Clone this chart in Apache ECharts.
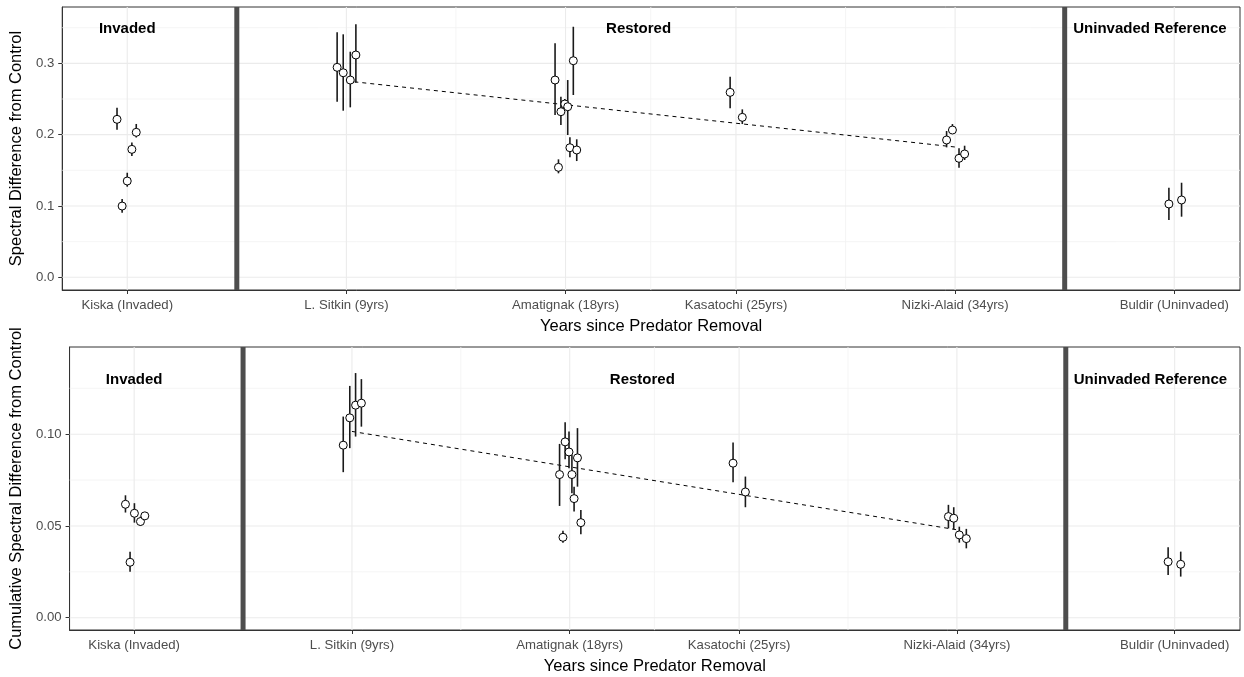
<!DOCTYPE html>
<html>
<head>
<meta charset="utf-8">
<script src="https://cdn.jsdelivr.net/npm/echarts@6/dist/echarts.min.js"></script>
<style>
html,body{margin:0;padding:0;background:#fff;}
#chart{width:1244px;height:677px;}
</style>
</head>
<body>
<div id="chart"></div>
<script>
// ---- Data ----
const siteLabels = ['Kiska (Invaded)', 'L. Sitkin (9yrs)', 'Amatignak (18yrs)', 'Kasatochi (25yrs)', 'Nizki-Alaid (34yrs)', 'Buldir (Uninvaded)'];
const siteYears = [0, 9, 18, 25, 34, 43];
const minorYears = [4.5, 13.5, 21.5, 29.5, 38.5];
const groupDividers = [4.5, 38.5];
const panelLabels = ['Invaded', 'Restored', 'Uninvaded Reference'];
const panelLabelX = [0, 21, 42];
const topLabelY = 0.349;
const bottomLabelY = 0.1297;

// top panel: spectral difference from control (jittered x)
const topX  = [-0.42, 0.37, 0.19, 0.00, -0.21,  8.62, 8.87, 9.16, 9.39,  17.57, 17.81, 17.97, 18.09, 18.32, 17.71, 18.18, 18.46,  24.76, 25.26,  33.65, 33.89, 34.16, 34.39,  42.78, 43.30];
const topY  = [0.2215, 0.2033, 0.1794, 0.1350, 0.0999,  0.2944, 0.2868, 0.2766, 0.3117,  0.2766, 0.2322, 0.2430, 0.2392, 0.3037, 0.1542, 0.1817, 0.1785,  0.2593, 0.2243,  0.1925, 0.2065, 0.1668, 0.1729,  0.1028, 0.1084];
const topLo = [0.2070, 0.1960, 0.1700, 0.1270, 0.0906,  0.2462, 0.2336, 0.2383, 0.2728,  0.2275, 0.2135, 0.2360, 0.1995, 0.2556, 0.1458, 0.1682, 0.1630,  0.2369, 0.2149,  0.1822, 0.2027, 0.1537, 0.1645,  0.0803, 0.0850];
const topHi = [0.2377, 0.2150, 0.1890, 0.1466, 0.1098,  0.3435, 0.3407, 0.3163, 0.3547,  0.3280, 0.2532, 0.2500, 0.2766, 0.3513, 0.1654, 0.1963, 0.1935,  0.2813, 0.2355,  0.2051, 0.2149, 0.1809, 0.1845,  0.1256, 0.1326];
const topFit = [[9, 0.2753], [34, 0.1827]];
const topTicks = [0, 0.1, 0.2, 0.3];

// bottom panel: cumulative spectral difference from control
const botX  = [-0.36, 0.01, 0.26, 0.44, -0.17,  8.64, 8.91, 9.15, 9.39,  17.58, 17.81, 17.97, 18.09, 18.18, 18.32, 17.72, 18.46,  24.75, 25.26,  33.65, 33.87, 34.10, 34.39,  42.73, 43.25];
const botY  = [0.0618, 0.0569, 0.0524, 0.0555, 0.0302,  0.0940, 0.1089, 0.1158, 0.1169,  0.0780, 0.0958, 0.0903, 0.0780, 0.0649, 0.0871, 0.0438, 0.0518,  0.0842, 0.0685,  0.0551, 0.0542, 0.0451, 0.0431,  0.0305, 0.0291];
const botLo = [0.0573, 0.0518, 0.0500, 0.0537, 0.0251,  0.0793, 0.0924, 0.0987, 0.1041,  0.0609, 0.0864, 0.0815, 0.0678, 0.0578, 0.0714, 0.0409, 0.0455,  0.0738, 0.0602,  0.0487, 0.0482, 0.0409, 0.0378,  0.0233, 0.0224];
const botHi = [0.0667, 0.0624, 0.0551, 0.0573, 0.0360,  0.1096, 0.1263, 0.1333, 0.1300,  0.0947, 0.1065, 0.1014, 0.0887, 0.0714, 0.1033, 0.0474, 0.0587,  0.0954, 0.0769,  0.0615, 0.0602, 0.0496, 0.0484,  0.0384, 0.0360];
const botFit = [[9, 0.1015], [34, 0.0479]];
const botTicks = [0, 0.05, 0.10];
const topMinorY = [0.05, 0.15, 0.25, 0.35];
const botMinorY = [0.025, 0.075, 0.125];

// ---- Chart ----
const FONT = "'Liberation Sans', Arial, sans-serif";
const chart = echarts.init(document.getElementById('chart'), null, {renderer: 'canvas'});

function vLineRender(color, width) {
  return function (params, api) {
    const cs = params.coordSys;
    const x = api.coord([api.value(0), api.value(1)])[0];
    return {type: 'line', shape: {x1: x, y1: cs.y, x2: x, y2: cs.y + cs.height},
            style: {stroke: color, lineWidth: width}, silent: true};
  };
}
function hLineRender(color, width) {
  return function (params, api) {
    const cs = params.coordSys;
    const y = api.coord([api.value(0), api.value(1)])[1];
    return {type: 'line', shape: {x1: cs.x, y1: y, x2: cs.x + cs.width, y2: y},
            style: {stroke: color, lineWidth: width}, silent: true};
  };
}
function errRender(params, api) {
  const p1 = api.coord([api.value(0), api.value(1)]);
  const p2 = api.coord([api.value(0), api.value(2)]);
  return {type: 'line', shape: {x1: p1[0], y1: p1[1], x2: p2[0], y2: p2[1]},
          style: {stroke: '#1a1a1a', lineWidth: 1.6}};
}
function textRender(params, api) {
  const p = api.coord([api.value(0), api.value(1)]);
  return {type: 'text', x: p[0], y: p[1],
          style: {text: panelLabels[params.dataIndex], fill: '#000', align: 'center', verticalAlign: 'middle',
                  font: 'bold 15px ' + FONT}};
}

function panelSeries(idx, xs, ys, los, his, fit, yTicks, minorY, labelY) {
  const s = [];
  const enc = {x: 0, y: 1};
  s.push({type: 'custom', xAxisIndex: idx, yAxisIndex: idx, z: 1, silent: true,
          renderItem: vLineRender('#f2f2f2', 0.8), encode: enc,
          data: minorYears.map(v => [v, yTicks[0]])});
  s.push({type: 'custom', xAxisIndex: idx, yAxisIndex: idx, z: 1, silent: true,
          renderItem: hLineRender('#f2f2f2', 0.8), encode: enc,
          data: minorY.map(v => [siteYears[0], v])});
  s.push({type: 'custom', xAxisIndex: idx, yAxisIndex: idx, z: 2, silent: true,
          renderItem: vLineRender('#ebebeb', 1.1), encode: enc,
          data: siteYears.map(v => [v, yTicks[0]])});
  s.push({type: 'custom', xAxisIndex: idx, yAxisIndex: idx, z: 2, silent: true,
          renderItem: hLineRender('#ebebeb', 1.1), encode: enc,
          data: yTicks.map(v => [siteYears[0], v])});
  s.push({type: 'custom', xAxisIndex: idx, yAxisIndex: idx, z: 3, silent: true,
          renderItem: vLineRender('#4d4d4d', 5), encode: enc,
          data: groupDividers.map(v => [v, yTicks[0]])});
  s.push({type: 'line', xAxisIndex: idx, yAxisIndex: idx, z: 4, silent: true,
          data: fit, symbol: 'none', lineStyle: {color: '#000', width: 1, type: [4, 4]}});
  s.push({type: 'custom', xAxisIndex: idx, yAxisIndex: idx, z: 5, silent: true,
          renderItem: errRender, encode: {x: 0, y: [1, 2]},
          data: xs.map((x, i) => [x, los[i], his[i]])});
  s.push({type: 'scatter', xAxisIndex: idx, yAxisIndex: idx, z: 6, silent: true,
          symbol: 'circle', symbolSize: 8,
          itemStyle: {color: '#ffffff', borderColor: '#000000', borderWidth: 1, opacity: 1},
          data: xs.map((x, i) => [x, ys[i]])});
  s.push({type: 'custom', xAxisIndex: idx, yAxisIndex: idx, z: 7, silent: true,
          renderItem: textRender, encode: enc,
          data: panelLabels.map((t, i) => [panelLabelX[i], labelY])});
  return s;
}

function xAxisDef(idx) {
  return {
    type: 'value', gridIndex: idx, min: -2.67, max: 45.7,
    name: 'Years since Predator Removal', nameLocation: 'middle', nameGap: 28,
    nameTextStyle: {fontFamily: FONT, fontSize: 16.5, color: '#000'},
    splitLine: {show: false},
    axisLine: {show: true, onZero: false, lineStyle: {color: '#333333', width: 1}},
    axisTick: {show: true, customValues: siteYears, length: 4, lineStyle: {color: '#333333'}},
    axisLabel: {customValues: siteYears, margin: 9, fontFamily: FONT, fontSize: 13.2, color: '#4d4d4d',
                formatter: v => siteLabels[siteYears.indexOf(v)] || ''}
  };
}
function yAxisDef(idx, min, max, ticks, dec, name, gap) {
  return {
    type: 'value', gridIndex: idx, min: min, max: max,
    name: name, nameLocation: 'middle', nameGap: gap,
    nameTextStyle: {fontFamily: FONT, fontSize: 16.5, color: '#000'},
    splitLine: {show: false},
    axisLine: {show: true, onZero: false, lineStyle: {color: '#333333', width: 1}},
    axisTick: {show: true, customValues: ticks, length: 4, lineStyle: {color: '#333333'}},
    axisLabel: {customValues: ticks, margin: 8, fontFamily: FONT, fontSize: 13.2, color: '#4d4d4d',
                formatter: v => v.toFixed(dec)}
  };
}

const option = {
  backgroundColor: '#ffffff',
  animation: false,
  grid: [
    {left: 62, top: 7, width: 1178, height: 283, show: true, borderColor: '#333333', borderWidth: 1, containLabel: false},
    {left: 69, top: 347, width: 1171, height: 283, show: true, borderColor: '#333333', borderWidth: 1, containLabel: false}
  ],
  xAxis: [xAxisDef(0), xAxisDef(1)],
  yAxis: [
    yAxisDef(0, -0.0178, 0.379, topTicks, 1, 'Spectral Difference from Control', 30),
    yAxisDef(1, -0.0067, 0.1475, botTicks, 2, 'Cumulative Spectral Difference from Control', 37)
  ],
  series: [].concat(
    panelSeries(0, topX, topY, topLo, topHi, topFit, topTicks, topMinorY, topLabelY),
    panelSeries(1, botX, botY, botLo, botHi, botFit, botTicks, botMinorY, bottomLabelY)
  )
};
chart.setOption(option);
</script>
</body>
</html>
